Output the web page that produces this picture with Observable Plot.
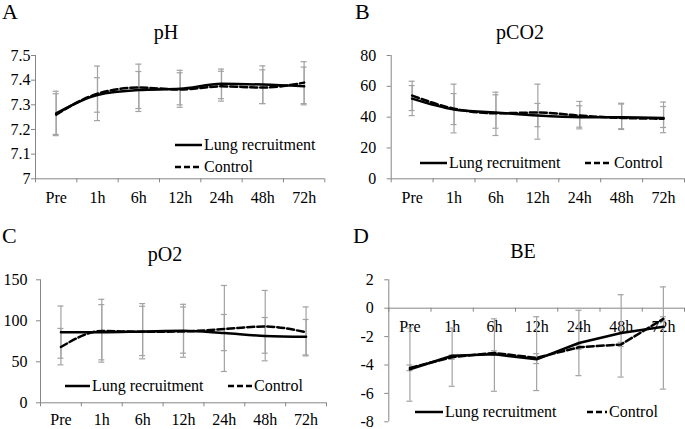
<!DOCTYPE html>
<html><head><meta charset="utf-8">
<script src="https://cdn.jsdelivr.net/npm/d3@7"></script>
<script src="https://cdn.jsdelivr.net/npm/@observablehq/plot@0.6"></script>
<style>
html,body{margin:0;padding:0;background:#fff;}
#chart{position:relative;width:685px;height:429px;overflow:hidden;font-family:"Liberation Serif",serif;background:#fff;}
#chart svg{position:absolute;}
#chart svg text{font-family:"Liberation Serif",serif !important;}
</style></head><body><div id="chart"></div>
<script>
// ---- data ----
const times = ["Pre", "1h", "6h", "12h", "24h", "48h", "72h"];
const seriesNames = ["Lung recruitment", "Control"];

const phLR     = [7.265, 7.340, 7.360, 7.365, 7.385, 7.382, 7.375];
const phLRLo   = [7.175, 7.270, 7.285, 7.290, 7.325, 7.305, 7.300];
const phLRHi   = [7.355, 7.410, 7.435, 7.440, 7.445, 7.458, 7.453];
const phCtrl   = [7.260, 7.345, 7.370, 7.362, 7.375, 7.370, 7.390];
const phCtrlLo = [7.180, 7.236, 7.273, 7.300, 7.315, 7.305, 7.305];
const phCtrlHi = [7.345, 7.457, 7.465, 7.430, 7.436, 7.442, 7.475];
const phTicks  = [7, 7.1, 7.2, 7.3, 7.4, 7.5];

const co2LR     = [52, 45, 43, 41, 40, 40, 39.5];
const co2LRLo   = [41, 35.2, 32.8, 33.8, 33.5, 32.5, 33.3];
const co2LRHi   = [60.5, 55.3, 54.5, 48.9, 47.4, 48.5, 46.9];
const co2Ctrl   = [54, 45.5, 42.5, 43, 41, 39.5, 39];
const co2CtrlLo = [44.3, 29.8, 28.1, 25.7, 32.4, 32, 29.9];
const co2CtrlHi = [63.3, 61.4, 56.2, 61.4, 50.2, 49, 49.8];
const co2Ticks  = [0, 20, 40, 60, 80];

const o2LR     = [86, 86, 87, 88, 85, 81.5, 80.5];
const o2LRLo   = [54.4, 52.4, 57.6, 60.5, 63.6, 60.5, 58.4];
const o2LRHi   = [118, 119.7, 117.7, 116.9, 107.7, 104, 101.6];
const o2Ctrl   = [68, 87.5, 86.5, 87, 90, 93, 86];
const o2CtrlLo = [46.3, 49.6, 53.6, 55.6, 38.2, 51.2, 57.2];
const o2CtrlHi = [90.7, 126.2, 121, 120.1, 143.1, 137, 116.9];
const o2Ticks  = [0, 50, 100, 150];

const beLR     = [-4.3, -3.35, -3.25, -3.6, -2.45, -1.75, -1.3];
const beLRLo   = [-6.55, -5.5, -5.85, -5.8, -4.75, -4.85, -5.7];
const beLRHi   = [-1.4, -1.4, -0.75, -0.6, -0.15, 0.95, 1.5];
const beCtrl   = [-4.2, -3.45, -3.15, -3.5, -2.75, -2.55, -0.75];
const beCtrlLo = [-4.4, -3.6, -3.3, -3.9, -2.9, -2.7, -0.9];
const beCtrlHi = [-4.0, -3.3, -3.0, -3.2, -2.6, -2.4, -0.6];
const beTicks  = [-8, -6, -4, -2, 0, 2];

// ---- styling ----
const AXIS = "#868686", ERR = "#a3a3a3";
const FONT = "Liberation Serif";

const chart = document.getElementById("chart");

function panel(o) {
  const rows = (v, lo, hi) => times.map((t, i) => ({t, x: i + 0.5, v: v[i], lo: lo[i], hi: hi[i]}));
  const lr = rows(o.lr, o.lrLo, o.lrHi);
  const ct = rows(o.ct, o.ctLo, o.ctHi);
  const errMarks = (d) => [
    Plot.ruleX(d, {x: "x", y1: "lo", y2: "hi", stroke: ERR, strokeWidth: 1.2}),
    Plot.ruleY(d, {x1: "x", x2: "x", y: "lo", insetLeft: -3, insetRight: -3, stroke: ERR, strokeWidth: 1.2}),
    Plot.ruleY(d, {x1: "x", x2: "x", y: "hi", insetLeft: -3, insetRight: -3, stroke: ERR, strokeWidth: 1.2})
  ];
  const svg = Plot.plot({
    width: o.width, height: o.height,
    marginLeft: o.m[0], marginRight: o.m[1], marginTop: o.m[2], marginBottom: o.m[3],
    x: {domain: [0, times.length], axis: null},
    y: {domain: [o.yTicks[0], o.yTicks[o.yTicks.length - 1]]},
    style: {fontFamily: FONT, fontSize: "16px", background: "transparent", overflow: "visible", color: "black"},
    marks: [
      Plot.axisY({ticks: o.yTicks, tickSize: 4, tickPadding: o.yPad, tickFormat: d => String(+d.toFixed(2)), stroke: AXIS, fill: "black", label: null, fontSize: 16}),
      Plot.text(times, {x: (d, i) => i + 0.5, y: () => o.base, text: d => d, dy: o.xDy, lineAnchor: "bottom", fill: "black", fontSize: 16}),
      Plot.ruleX([0], {stroke: AXIS}),
      Plot.ruleY([o.base], {stroke: AXIS}),
      Plot.ruleX(d3.range(times.length + 1), {x: d => d, y1: () => o.base, y2: () => o.base, insetBottom: -4, stroke: AXIS}),
      ...errMarks(lr),
      ...errMarks(ct),
      Plot.line(lr, {x: "x", y: "v", curve: o.curve, stroke: "black", strokeWidth: 2.5}),
      Plot.line(ct, {x: "x", y: "v", curve: o.curve, stroke: "black", strokeWidth: 2.5, strokeDasharray: "7,3"})
    ]
  });
  svg.style.left = o.left + "px";
  svg.style.top = o.top + "px";
  chart.appendChild(svg);
}

panel({left: 0, top: 0, width: 342, height: 215, m: [35, 17.7, 55, 36.7], yTicks: phTicks, yPad: 1, base: 7, xDy: 24, curve: "monotone-x",
  lr: phLR, lrLo: phLRLo, lrHi: phLRHi, ct: phCtrl, ctLo: phCtrlLo, ctHi: phCtrlHi});
panel({left: 342, top: 0, width: 343, height: 215, m: [48.7, 1, 55, 36.7], yTicks: co2Ticks, yPad: 11, base: 0, xDy: 24, curve: "monotone-x",
  lr: co2LR, lrLo: co2LRLo, lrHi: co2LRHi, ct: co2Ctrl, ctLo: co2CtrlLo, ctHi: co2CtrlHi});
panel({left: 0, top: 215, width: 342, height: 214, m: [40, 16, 64.3, 26.7], yTicks: o2Ticks, yPad: 9, base: 0, xDy: 22, curve: "monotone-x",
  lr: o2LR, lrLo: o2LRLo, lrHi: o2LRHi, ct: o2Ctrl, ctLo: o2CtrlLo, ctHi: o2CtrlHi});
panel({left: 342, top: 215, width: 343, height: 214, m: [46.3, 1, 64.3, 7.7], yTicks: beTicks, yPad: 11, base: 0, xDy: 24, curve: "linear",
  lr: beLR, lrLo: beLRLo, lrHi: beLRHi, ct: beCtrl, ctLo: beCtrlLo, ctHi: beCtrlHi});

// ---- overlay: panel letters, titles, legends ----
const ns = "http://www.w3.org/2000/svg";
const ov = document.createElementNS(ns, "svg");
ov.setAttribute("width", 685); ov.setAttribute("height", 429);
ov.style.left = "0px"; ov.style.top = "0px";
ov.setAttribute("font-family", FONT);
chart.appendChild(ov);
function txt(x, y, s, size, anchor) {
  const t = document.createElementNS(ns, "text");
  t.setAttribute("x", x); t.setAttribute("y", y);
  t.setAttribute("font-size", size);
  t.setAttribute("font-family", FONT);
  t.setAttribute("text-anchor", anchor || "start");
  t.setAttribute("fill", "black");
  t.textContent = s;
  ov.appendChild(t);
}
function swatch(x1, x2, y, dashed) {
  const l = document.createElementNS(ns, "line");
  l.setAttribute("x1", x1); l.setAttribute("x2", x2);
  l.setAttribute("y1", y); l.setAttribute("y2", y);
  l.setAttribute("stroke", "black"); l.setAttribute("stroke-width", 2.5);
  if (dashed) l.setAttribute("stroke-dasharray", "6,3");
  ov.appendChild(l);
}
const letters = [["A", 2, 19], ["B", 355, 19], ["C", 2, 243], ["D", 353, 243]];
letters.forEach(([s, x, y]) => txt(x, y, s, 22));
const titles = [["pH", 166, 39], ["pCO2", 520, 39], ["pO2", 165, 261], ["BE", 523, 258]];
titles.forEach(([s, x, y]) => txt(x, y, s, 20, "middle"));
const legends = [
  [[175, 202, 145], [175, 202, 167]],
  [[420, 447, 163], [585, 612, 163]],
  [[65, 90, 386], [228, 252, 386]],
  [[415, 443, 412], [587, 607, 412]]
];
legends.forEach(pair => pair.forEach(([x1, x2, y], k) => {
  swatch(x1, x2, y, k === 1);
  txt(x2 + 2, y + 5, seriesNames[k], 16);
}));
</script></body></html>
